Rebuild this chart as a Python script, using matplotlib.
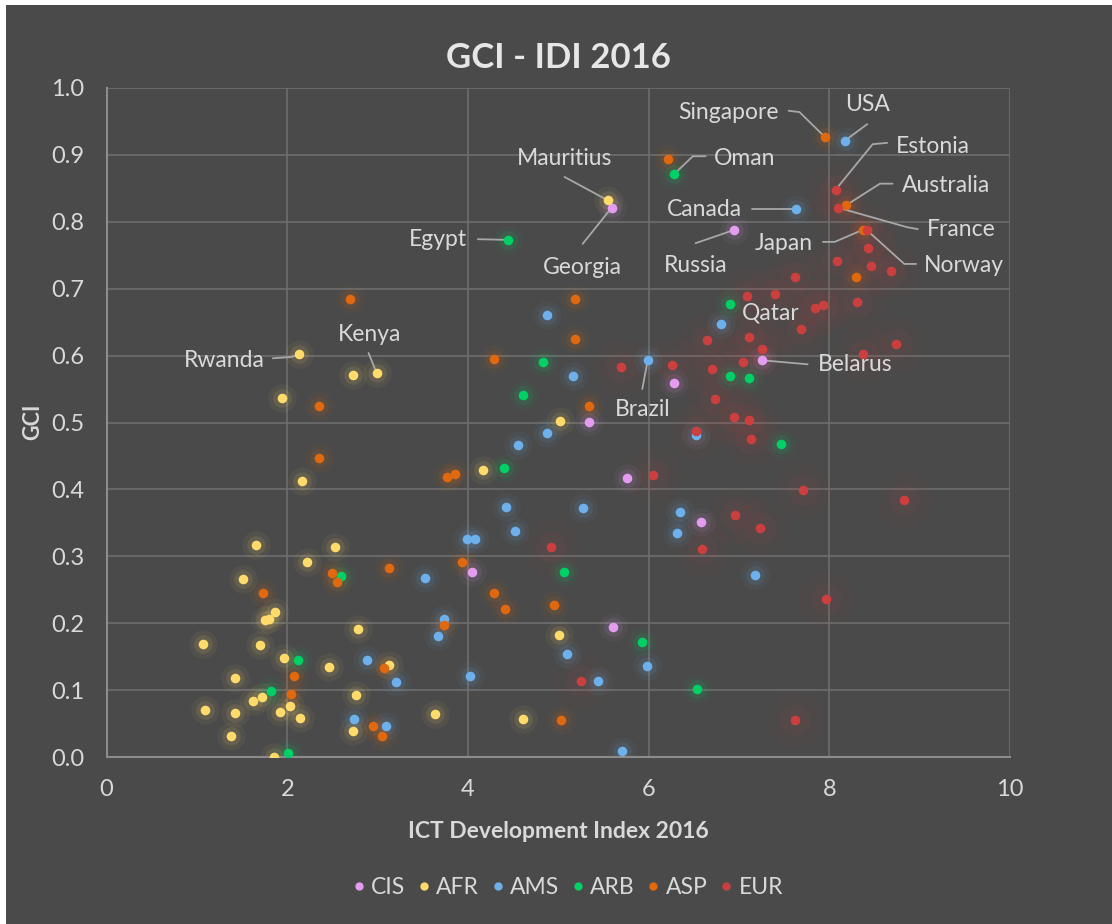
import matplotlib
matplotlib.use("Agg")
import matplotlib.pyplot as plt
from matplotlib.lines import Line2D
from matplotlib.patches import Rectangle

plt.rcParams['font.family'] = ['Lato', 'DejaVu Sans']

# ---- data ----
cis_x = [5.59, 6.95, 7.26, 6.28, 5.34, 5.76, 6.58, 4.05, 5.61]
cis_y = [0.821, 0.788, 0.593, 0.559, 0.501, 0.417, 0.351, 0.276, 0.194]

afr_x = [5.55, 2.13, 2.99, 2.73, 1.94, 5.02, 4.17, 2.16, 1.65, 2.53, 2.22, 1.51,
         1.86, 1.80, 1.75, 2.78, 5.01, 1.07, 1.70, 1.97, 2.46, 3.13, 1.42, 2.76,
         1.72, 1.62, 2.03, 1.09, 1.42, 1.92, 2.14, 3.64, 4.61, 2.73, 1.38, 1.85]
afr_y = [0.832, 0.602, 0.574, 0.571, 0.537, 0.502, 0.429, 0.413, 0.317, 0.314, 0.291, 0.266,
         0.217, 0.207, 0.205, 0.191, 0.183, 0.169, 0.167, 0.148, 0.135, 0.138, 0.118, 0.093,
         0.090, 0.084, 0.076, 0.071, 0.066, 0.068, 0.059, 0.064, 0.057, 0.039, 0.031, 0.0]

ams_x = [8.17, 7.63, 6.80, 5.99, 4.88, 5.16, 4.87, 4.56, 6.53, 4.42, 4.52, 3.99, 4.08,
         5.27, 6.35, 6.31, 3.52, 7.18, 3.73, 3.67, 2.88, 5.10, 5.98, 3.20, 4.02, 5.44,
         2.74, 3.09, 5.71]
ams_y = [0.921, 0.819, 0.647, 0.593, 0.661, 0.569, 0.484, 0.466, 0.481, 0.374, 0.338, 0.326, 0.326,
         0.372, 0.366, 0.335, 0.268, 0.272, 0.206, 0.181, 0.145, 0.154, 0.136, 0.112, 0.121, 0.114,
         0.057, 0.046, 0.009]

arb_x = [6.28, 4.44, 6.90, 4.83, 4.61, 6.90, 7.11, 4.40, 7.46, 2.60, 5.06, 5.93, 2.12, 6.54, 1.82, 2.01]
arb_y = [0.871, 0.773, 0.677, 0.590, 0.541, 0.569, 0.566, 0.432, 0.468, 0.271, 0.277, 0.172, 0.145, 0.102, 0.099, 0.006]

asp_x = [7.95, 6.22, 8.19, 8.37, 8.29, 2.69, 5.19, 5.19, 4.29, 2.35, 5.34, 2.35, 3.86, 3.77,
         3.93, 3.13, 2.50, 2.55, 1.73, 4.29, 4.41, 4.95, 3.74, 3.07, 2.07, 2.04, 5.03, 2.95, 3.05]
asp_y = [0.927, 0.894, 0.825, 0.788, 0.718, 0.685, 0.685, 0.625, 0.595, 0.525, 0.525, 0.447, 0.423, 0.418,
         0.291, 0.283, 0.275, 0.262, 0.245, 0.245, 0.221, 0.227, 0.197, 0.133, 0.121, 0.094, 0.056, 0.046, 0.031]

eur_x = [8.07, 8.10, 8.42, 8.43, 8.08, 8.46, 8.68, 7.62, 7.09, 7.40, 8.31, 7.84, 7.93, 7.69,
         6.65, 7.11, 7.25, 8.74, 8.37, 7.04, 5.69, 6.26, 6.70, 6.73, 6.95, 7.11, 6.53, 7.13,
         6.05, 7.71, 8.83, 4.92, 6.96, 7.23, 6.59, 7.96, 5.25, 7.62]
eur_y = [0.848, 0.821, 0.787, 0.761, 0.741, 0.734, 0.726, 0.718, 0.689, 0.692, 0.680, 0.671, 0.676, 0.640,
         0.623, 0.628, 0.610, 0.617, 0.602, 0.590, 0.583, 0.586, 0.580, 0.535, 0.508, 0.504, 0.487, 0.475,
         0.421, 0.399, 0.384, 0.314, 0.362, 0.342, 0.311, 0.236, 0.114, 0.055]

groups = ['CIS', 'AFR', 'AMS', 'ARB', 'ASP', 'EUR']
colors = {'CIS': '#e39cf0', 'AFR': '#ffdb6b', 'AMS': '#6db0ec', 'ARB': '#00d066',
          'ASP': '#e0680e', 'EUR': '#cc3f3f'}
series = {'CIS': (cis_x, cis_y), 'AFR': (afr_x, afr_y), 'AMS': (ams_x, ams_y),
          'ARB': (arb_x, arb_y), 'ASP': (asp_x, asp_y), 'EUR': (eur_x, eur_y)}

# label: (group, index, text x, text y, ha, leader path before the point)
labels = [
    ('Singapore', 'ASP', 0, 7.44, 0.963, 'right', [(7.55, 0.966), (7.67, 0.964)]),
    ('USA', 'AMS', 0, 8.42, 0.975, 'center', [(8.42, 0.946)]),
    ('Estonia', 'EUR', 0, 8.74, 0.913, 'left', [(8.64, 0.918), (8.48, 0.916)]),
    ('Oman', 'ARB', 0, 6.72, 0.894, 'left', [(6.63, 0.898), (6.49, 0.898)]),
    ('Mauritius', 'AFR', 0, 5.07, 0.895, 'center', [(5.07, 0.867)]),
    ('Australia', 'ASP', 2, 8.80, 0.854, 'left', [(8.70, 0.857), (8.56, 0.857)]),
    ('Canada', 'AMS', 1, 7.03, 0.819, 'right', [(7.14, 0.819)]),
    ('France', 'EUR', 1, 9.08, 0.788, 'left', [(8.98, 0.789), (8.86, 0.792)]),
    ('Japan', 'ASP', 3, 7.82, 0.768, 'right', [(7.93, 0.770), (8.06, 0.770)]),
    ('Norway', 'EUR', 2, 9.05, 0.735, 'left', [(8.96, 0.737), (8.83, 0.737)]),
    ('Egypt', 'ARB', 1, 3.99, 0.773, 'right', [(4.11, 0.774)]),
    ('Georgia', 'CIS', 0, 5.27, 0.732, 'center', [(5.27, 0.767)]),
    ('Russia', 'CIS', 1, 6.52, 0.734, 'center', [(6.52, 0.768)]),
    ('Qatar', 'ARB', 2, 7.35, 0.664, 'center', []),
    ('Rwanda', 'AFR', 1, 1.75, 0.593, 'right', [(1.84, 0.596), (2.05, 0.598)]),
    ('Kenya', 'AFR', 2, 2.91, 0.631, 'center', [(2.90, 0.604)]),
    ('Belarus', 'CIS', 2, 7.87, 0.586, 'left', [(7.76, 0.587)]),
    ('Brazil', 'AMS', 3, 5.93, 0.519, 'center', [(5.93, 0.550)]),
]

bg = '#4a4a4a'
text_col = '#d9d9d9'

fig = plt.figure(figsize=(11.12, 9.24), dpi=100, facecolor='white')
fig.patches.append(Rectangle((6 / 1112, 0), 1, 1 - 5 / 924, transform=fig.transFigure,
                             facecolor=bg, edgecolor='none', zorder=-10))
ax = fig.add_axes([106.5 / 1112, 1 - 757 / 924, (1010 - 106.5) / 1112, (757 - 88) / 924])
ax.set_facecolor(bg)

for g in groups:
    xs, ys = series[g]
    c = colors[g]
    if g == 'EUR':
        ax.scatter(xs, ys, s=1600, color=c, alpha=0.035, linewidths=0, zorder=2)
        ax.scatter(xs, ys, s=500, color=c, alpha=0.06, linewidths=0, zorder=2)
    else:
        ax.scatter(xs, ys, s=420, color=c, alpha=0.05, linewidths=0, zorder=2)
        ax.scatter(xs, ys, s=180, color=c, alpha=0.10, linewidths=0, zorder=2)
    ax.scatter(xs, ys, s=48, color=c, linewidths=0, zorder=4)

for name, g, i, tx, ty, ha, path in labels:
    px, py = series[g][0][i], series[g][1][i]
    pts = path + [(px, py)]
    if len(pts) > 1:
        ax.plot([p[0] for p in pts], [p[1] for p in pts], color='#a8a8a8', lw=1.3,
                zorder=3, solid_capstyle='round')
    ax.text(tx, ty, name, ha=ha, va='center', fontsize=16.5, color=text_col, zorder=5)

ax.set_xlim(0, 10)
ax.set_ylim(0, 1.0)
ax.set_xticks(range(0, 11, 2))
ax.set_yticks([i / 10 for i in range(11)])
ax.set_yticklabels([f'{i / 10:.1f}' for i in range(11)])
ax.grid(True, color='#6e6e6e', lw=1.2)
ax.set_axisbelow(True)
ax.tick_params(length=0, labelsize=17, colors=text_col)
ax.tick_params(axis='x', pad=16)
ax.tick_params(axis='y', pad=16)
for s in ['top', 'right']:
    ax.spines[s].set_visible(False)
for s in ['left', 'bottom']:
    ax.spines[s].set_color('#8c8c8c')
    ax.spines[s].set_linewidth(1.5)

fig.text(0.502, 1 - 58 / 924, 'GCI - IDI 2016', ha='center', va='center',
         fontsize=25, fontweight='bold', color='#e6e6e6')
fig.text(558 / 1112, 1 - 832 / 924, 'ICT Development Index 2016', ha='center', va='center',
         fontsize=16.5, fontweight='bold', color=text_col)
fig.text(33 / 1112, 1 - 422 / 924, 'GCI', ha='center', va='center', rotation=90,
         fontsize=15.5, fontweight='bold', color=text_col)

handles = [Line2D([], [], ls='none', marker='o', markersize=6, markerfacecolor=colors[g],
                  markeredgewidth=0) for g in groups]
leg = fig.legend(handles, groups, loc='center', bbox_to_anchor=(568 / 1112, 1 - 888 / 924),
                 ncol=6, frameon=False, fontsize=16.5, handlelength=0.5, handletextpad=0.3,
                 columnspacing=0.55, labelcolor=text_col)

fig.savefig('out.png', dpi=100, facecolor=fig.get_facecolor())
